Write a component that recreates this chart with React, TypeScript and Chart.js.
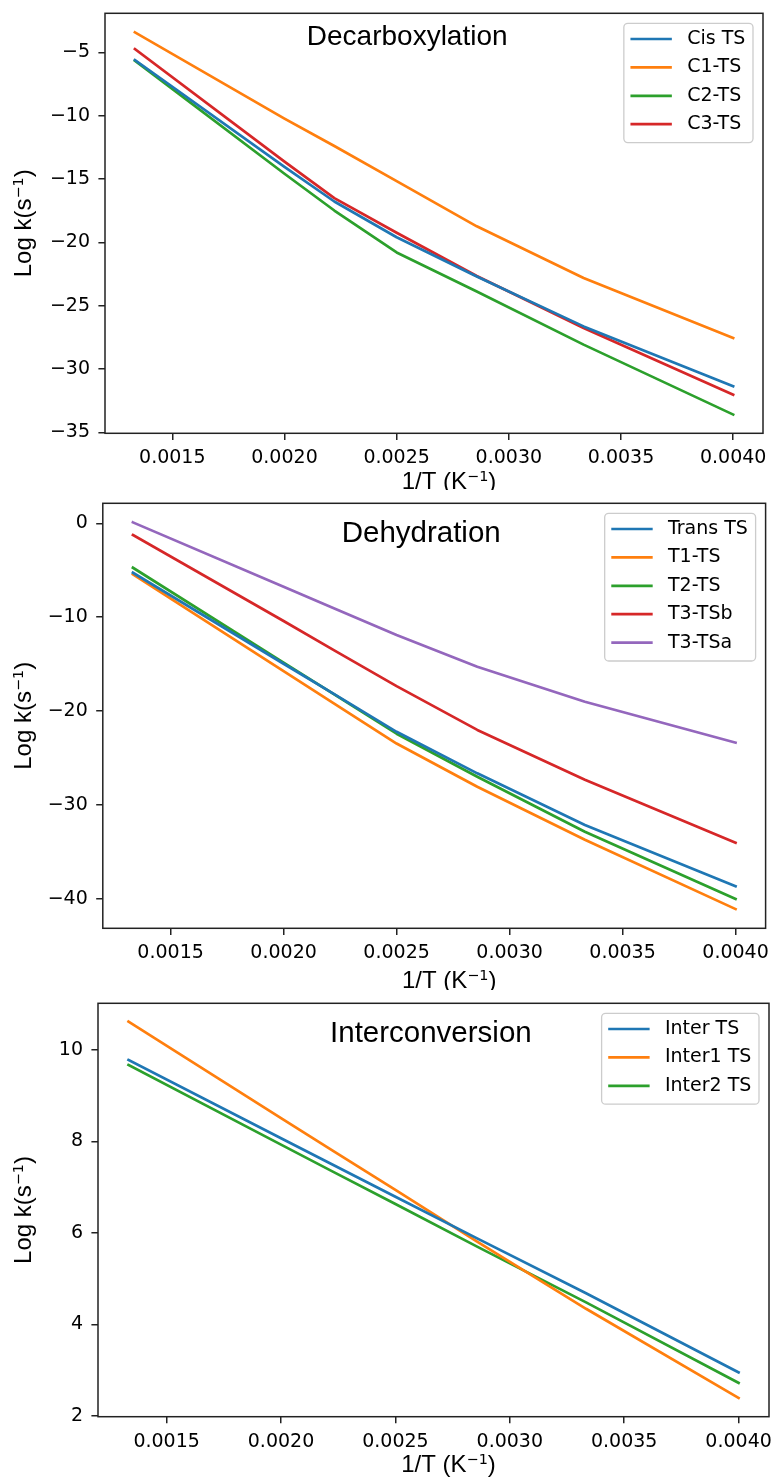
import React, { useEffect, useRef } from "react";
import { Chart, registerables } from "chart.js";
Chart.register(...registerables);

// 1/T values (K^-1) for T = 750, 500, 450, 400, 350, 300, 250 K
const INV_T = [1 / 750, 1 / 500, 1 / 450, 1 / 400, 1 / 350, 1 / 300, 1 / 250];
const X_TICKS = [0.0015, 0.002, 0.0025, 0.003, 0.0035, 0.004];
const X_MIN = 0.0012;
const X_MAX = 0.004133;

// Decarboxylation
const DECARB_LABELS = ["Cis TS", "C1-TS", "C2-TS", "C3-TS"];
const CIS_TS = [-5.61, -14.04, -16.78, -19.6, -22.7, -26.64, -31.37];
const C1_TS = [-3.42, -10.24, -12.4, -15.17, -18.74, -22.82, -27.55];
const C2_TS = [-5.66, -14.59, -17.49, -20.8, -23.88, -28.08, -33.6];
const C3_TS = [-4.74, -13.63, -16.51, -19.25, -22.66, -26.77, -32.03];
const DECARB_Y_TICKS = [-35, -30, -25, -20, -15, -10, -5];

// Dehydration
const DEHYD_LABELS = ["Trans TS", "T1-TS", "T2-TS", "T3-TSb", "T3-TSa"];
const TRANS_TS = [-5.26, -14.95, -18.17, -22.2, -26.62, -32.13, -38.63];
const T1_TS = [-5.43, -15.73, -19.16, -23.45, -28.05, -33.7, -41.07];
const T2_TS = [-4.73, -14.84, -18.19, -22.4, -26.98, -32.84, -40.0];
const T3_TSB = [-1.25, -10.4, -13.5, -17.34, -22.0, -27.3, -34.0];
const T3_TSA = [0.1, -6.76, -9.05, -11.9, -15.27, -19.0, -23.36];
const DEHYD_Y_TICKS = [-40, -30, -20, -10, 0];

// Interconversion
const INTER_LABELS = ["Inter TS", "Inter1 TS", "Inter2 TS"];
const INTER_TS = [9.78, 8.07, 7.5, 6.79, 5.88, 4.68, 2.95];
const INTER1_TS = [10.62, 8.51, 7.81, 6.94, 5.81, 4.34, 2.39];
const INTER2_TS = [9.67, 7.93, 7.35, 6.63, 5.7, 4.48, 2.72];
const INTER_Y_TICKS = [2, 4, 6, 8, 10];

const COLORS = ["#1f77b4", "#ff7f0e", "#2ca02c", "#d62728", "#9467bd"];

const TICK_FONT = "DejaVu Sans";
const LABEL_FONT = "Liberation Sans";

type PanelCfg = {
  top: number;
  height: number;
  left: number;
  right: number;
  plotTop: number;
  plotBottom: number;
  yMin: number;
  yMax: number;
  yTicks: number[];
  labels: string[];
  series: number[][];
  title: string;
  titleFx: number;
  titleFy: number;
  titleSize: number;
  xLabelOffset: number;
};

const PANELS: PanelCfg[] = [
  {
    top: 0, height: 490, left: 105, right: 763, plotTop: 13.3, plotBottom: 433.3,
    yMin: -35.08, yMax: -1.92, yTicks: DECARB_Y_TICKS,
    labels: DECARB_LABELS, series: [CIS_TS, C1_TS, C2_TS, C3_TS],
    title: "Decarboxylation", titleFx: 0.3067, titleFy: 0.0755, titleSize: 28, xLabelOffset: 56,
  },
  {
    top: 490, height: 500, left: 102.8, right: 765.6, plotTop: 13.3, plotBottom: 438.3,
    yMin: -43.12, yMax: 2.13, yTicks: DEHYD_Y_TICKS,
    labels: DEHYD_LABELS, series: [TRANS_TS, T1_TS, T2_TS, T3_TSB, T3_TSA],
    title: "Dehydration", titleFx: 0.3604, titleFy: 0.0904, titleSize: 29.5, xLabelOffset: 60,
  },
  {
    top: 990, height: 487, left: 98, right: 769, plotTop: 13.3, plotBottom: 426.7,
    yMin: 1.98, yMax: 11.02, yTicks: INTER_Y_TICKS,
    labels: INTER_LABELS, series: [INTER_TS, INTER1_TS, INTER2_TS],
    title: "Interconversion", titleFx: 0.3458, titleFy: 0.0943, titleSize: 29.5, xLabelOffset: 55,
  },
];

type Part = { t: string; sup?: boolean };

function drawParts(ctx: CanvasRenderingContext2D, parts: Part[], size: number) {
  // draws centered at (0,0) baseline
  const supSize = size * 0.6;
  const widths = parts.map((p) => {
    ctx.font = p.sup ? `${supSize}px "${TICK_FONT}"` : `${size}px "${LABEL_FONT}"`;
    return ctx.measureText(p.t).width;
  });
  const total = widths.reduce((a, b) => a + b, 0);
  let x = -total / 2;
  ctx.textAlign = "left";
  ctx.textBaseline = "alphabetic";
  parts.forEach((p, i) => {
    ctx.font = p.sup ? `${supSize}px "${TICK_FONT}"` : `${size}px "${LABEL_FONT}"`;
    ctx.fillText(p.t, x, p.sup ? -size * 0.33 : 0);
    x += widths[i];
  });
}

const decorPlugin = {
  id: "decor",
  afterDraw(chart: any, _args: any, opts: any) {
    const ctx: CanvasRenderingContext2D = chart.ctx;
    const a = chart.chartArea;
    ctx.save();
    // frame
    ctx.strokeStyle = "#222";
    ctx.lineWidth = 1.5;
    ctx.strokeRect(a.left, a.top, a.right - a.left, a.bottom - a.top);

    // title inside plot
    ctx.fillStyle = "#000";
    ctx.font = `${opts.titleSize}px "${LABEL_FONT}"`;
    ctx.textAlign = "left";
    ctx.textBaseline = "alphabetic";
    ctx.fillText(
      opts.title,
      a.left + opts.titleFx * (a.right - a.left),
      a.top + opts.titleFy * (a.bottom - a.top)
    );

    // y label
    ctx.save();
    ctx.translate(31, (a.top + a.bottom) / 2);
    ctx.rotate(-Math.PI / 2);
    drawParts(ctx, [{ t: "Log k(s" }, { t: "\u22121", sup: true }, { t: ")" }], 24);
    ctx.restore();

    // x label
    ctx.save();
    ctx.translate((a.left + a.right) / 2 + 15, a.bottom + opts.xLabelOffset);
    drawParts(ctx, [{ t: "1/T (K" }, { t: "\u22121", sup: true }, { t: ")" }], 24);
    ctx.restore();

    // legend
    const ds = chart.data.datasets;
    const fs = 19;
    ctx.font = `${fs}px "${TICK_FONT}"`;
    let tw = 0;
    ds.forEach((d: any) => {
      tw = Math.max(tw, ctx.measureText(d.label).width);
    });
    const padL = 6.6, handle = 41.4, gap = 15.3, padR = 7.7, rowH = 28.4;
    const boxW = padL + handle + gap + tw + padR;
    const boxH = 15.7 + (ds.length - 1) * rowH + 18.4;
    const bx = a.right - 10 - boxW;
    const by = a.top + 10;
    const r = 4;
    ctx.beginPath();
    ctx.moveTo(bx + r, by);
    ctx.lineTo(bx + boxW - r, by);
    ctx.arcTo(bx + boxW, by, bx + boxW, by + r, r);
    ctx.lineTo(bx + boxW, by + boxH - r);
    ctx.arcTo(bx + boxW, by + boxH, bx + boxW - r, by + boxH, r);
    ctx.lineTo(bx + r, by + boxH);
    ctx.arcTo(bx, by + boxH, bx, by + boxH - r, r);
    ctx.lineTo(bx, by + r);
    ctx.arcTo(bx, by, bx + r, by, r);
    ctx.closePath();
    ctx.fillStyle = "rgba(255,255,255,0.8)";
    ctx.fill();
    ctx.strokeStyle = "#cccccc";
    ctx.lineWidth = 1.3;
    ctx.stroke();
    ds.forEach((d: any, i: number) => {
      const cy = by + 15.7 + i * rowH;
      ctx.strokeStyle = d.borderColor;
      ctx.lineWidth = 2.7;
      ctx.lineCap = "butt";
      ctx.beginPath();
      ctx.moveTo(bx + padL, cy);
      ctx.lineTo(bx + padL + handle, cy);
      ctx.stroke();
      ctx.fillStyle = "#000";
      ctx.font = `${fs}px "${TICK_FONT}"`;
      ctx.textAlign = "left";
      ctx.textBaseline = "middle";
      ctx.fillText(d.label, bx + padL + handle + gap, cy);
    });
    ctx.restore();
  },
};

function fmtY(v: number) {
  return v < 0 ? "\u2212" + Math.abs(v) : String(v);
}

function zeroPad(s: any) {
  s.paddingTop = 0;
  s.paddingBottom = 0;
  s.paddingLeft = 0;
  s.paddingRight = 0;
}

function buildConfig(p: PanelCfg): any {
  const gridCommon = {
    drawOnChartArea: false,
    drawTicks: true,
    tickLength: 6.6,
    color: "#222",
    lineWidth: 1.5,
  };
  return {
    type: "line",
    data: {
      datasets: p.series.map((s, i) => ({
        label: p.labels[i],
        data: s.map((y, j) => ({ x: INV_T[j], y })),
        borderColor: COLORS[i],
        backgroundColor: COLORS[i],
        borderWidth: 2.7,
        pointRadius: 0,
        tension: 0,
        fill: false,
        borderCapStyle: "square",
        borderJoinStyle: "round",
      })),
    },
    options: {
      responsive: false,
      animation: false,
      devicePixelRatio: 1,
      layout: {
        padding: { left: 0, top: p.plotTop, right: 771 - p.right, bottom: 0 },
      },
      plugins: {
        legend: { display: false },
        tooltip: { enabled: false },
        title: { display: false },
        decor: {
          title: p.title,
          titleFx: p.titleFx,
          titleFy: p.titleFy,
          titleSize: p.titleSize,
          xLabelOffset: p.xLabelOffset,
        },
      },
      scales: {
        x: {
          type: "linear",
          min: X_MIN,
          max: X_MAX,
          afterBuildTicks: (s: any) => {
            s.ticks = X_TICKS.map((v) => ({ value: v }));
          },
          afterFit: (s: any) => {
            s.height = p.height - p.plotBottom;
            zeroPad(s);
          },
          ticks: {
            font: { family: TICK_FONT, size: 19 },
            color: "#000",
            padding: 7,
            autoSkip: false,
            maxRotation: 0,
            callback: (v: number) => Number(v).toFixed(4),
          },
          grid: gridCommon,
          border: { display: false },
        },
        y: {
          type: "linear",
          min: p.yMin,
          max: p.yMax,
          afterBuildTicks: (s: any) => {
            s.ticks = p.yTicks.map((v) => ({ value: v }));
          },
          afterFit: (s: any) => {
            s.width = p.left;
            zeroPad(s);
          },
          ticks: {
            font: { family: TICK_FONT, size: 19 },
            color: "#000",
            padding: 8.4,
            autoSkip: false,
            callback: (v: number) => fmtY(Number(v)),
          },
          grid: gridCommon,
          border: { display: false },
        },
      },
    },
    plugins: [decorPlugin],
  };
}

function Panel({ cfg }: { cfg: PanelCfg }) {
  const ref = useRef<HTMLCanvasElement>(null);
  useEffect(() => {
    if (!ref.current) return;
    const chart = new Chart(ref.current, buildConfig(cfg));
    return () => chart.destroy();
  }, [cfg]);
  return (
    <canvas
      ref={ref}
      width={771}
      height={cfg.height}
      style={{
        position: "absolute",
        left: 0,
        top: cfg.top,
        width: 771,
        height: cfg.height,
        display: "block",
      }}
    />
  );
}

export default function App() {
  return (
    <div
      style={{
        position: "absolute",
        left: 0,
        top: 0,
        width: 771,
        height: 1477,
        background: "#fff",
      }}
    >
      {PANELS.map((p, i) => (
        <Panel key={i} cfg={p} />
      ))}
    </div>
  );
}
